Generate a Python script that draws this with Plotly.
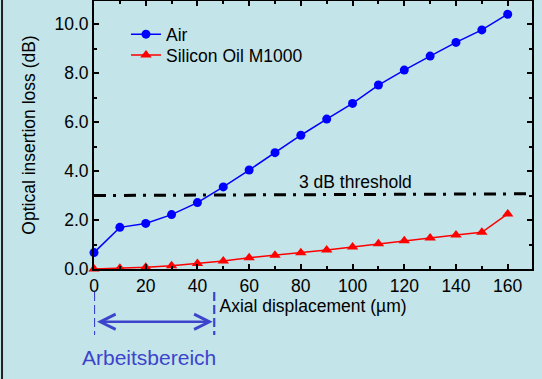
import plotly.graph_objects as go

# ---- data ----
displacement = [0, 10, 20, 30, 40, 50, 60, 70, 80, 90, 100, 110, 120, 130, 140, 150, 160]
air_loss = [0.67, 1.70, 1.86, 2.22, 2.71, 3.35, 4.04, 4.75, 5.46, 6.12, 6.76, 7.51, 8.12, 8.69, 9.25, 9.76, 10.40]
oil_loss = [0.0, 0.03, 0.07, 0.13, 0.22, 0.33, 0.46, 0.56, 0.66, 0.78, 0.90, 1.03, 1.15, 1.27, 1.39, 1.50, 2.25]
series_names = ["Air", "Silicon Oil M1000"]
threshold_x = [0, 169.4]
threshold_y = [3.0, 3.07]
threshold_label = "3 dB threshold"
work_range = [0, 46.5]
work_label = "Arbeitsbereich"
x_range = [0, 169.4]
y_range = [0, 10.94]
x_ticks = [0, 20, 40, 60, 80, 100, 120, 140, 160]
y_ticks = [0, 2, 4, 6, 8, 10]

BG = "#C3E4E8"
BLUE2 = "#3C44CC"
FONT = "Liberation Sans, Arial, sans-serif"
FS = 17.5

fig = go.Figure()
fig.add_trace(go.Scatter(
    x=displacement, y=air_loss, name=series_names[0], mode="lines+markers",
    line=dict(color="#0000FF", width=1.5),
    marker=dict(symbol="circle", size=9, color="#0000FF"),
    cliponaxis=False, legend="legend"))
fig.add_trace(go.Scatter(
    x=displacement, y=oil_loss, name=series_names[1], mode="lines+markers",
    line=dict(color="#FF0000", width=1.5),
    marker=dict(symbol="triangle-up", size=10, color="#FF0000"),
    cliponaxis=False, legend="legend2"))
fig.add_trace(go.Scatter(
    x=threshold_x, y=threshold_y, mode="lines", showlegend=False,
    line=dict(color="black", width=3, dash="12px,7px,3px,8px"),
    hoverinfo="skip"))

axis_common = dict(
    showline=True, linecolor="black", linewidth=2, mirror="ticks",
    ticks="inside", ticklen=5, tickwidth=1.5, tickcolor="black",
    showgrid=False, zeroline=False, automargin=False,
    tickfont=dict(family=FONT, size=FS, color="black"),
    minor=dict(ticks="inside", ticklen=3, tickwidth=1.5, tickcolor="black", showgrid=False),
)

fig.update_xaxes(**axis_common, range=x_range, tickvals=x_ticks, minor_dtick=10,
                 title=dict(text="Axial displacement (µm)", font=dict(family=FONT, size=FS, color="black"), standoff=2))
fig.update_yaxes(**axis_common, range=y_range, tickvals=y_ticks, tickformat=".1f", minor_dtick=1,
                 title=dict(text="Optical insertion loss (dB)", font=dict(family=FONT, size=FS, color="black"), standoff=14))

shapes = []
for xv in work_range:
    shapes.append(dict(type="line", xref="x", yref="paper", x0=xv, x1=xv, y0=-0.086, y1=-0.246,
                       line=dict(color=BLUE2, width=2.2, dash="9px,4px")))
# left frame border of the figure
shapes.append(dict(type="line", xref="paper", yref="paper", x0=-0.210, x1=-0.210, y0=-0.41, y1=1.01,
                   line=dict(color="#222222", width=2)))

annotations = [
    dict(x=work_range[1] - 0.6, y=-0.197, xref="x", yref="paper",
         ax=work_range[0] + 0.6, ay=0, axref="x", ayref="pixel",
         text="", showarrow=True, arrowhead=5, startarrowhead=5, arrowside="end+start",
         arrowsize=1.2, startarrowsize=1.2, arrowwidth=2.5, arrowcolor=BLUE2, standoff=0, startstandoff=0),
    dict(x=sum(work_range) / 2, y=-0.33, xref="x", yref="paper", text=work_label, showarrow=False,
         font=dict(family=FONT, size=21, color=BLUE2), xanchor="center", yanchor="middle", xshift=-5),
    dict(x=101, y=3.55, xref="x", yref="y", text=threshold_label, showarrow=False,
         font=dict(family=FONT, size=FS, color="black"), xanchor="center", yanchor="middle"),
]

legend_style = dict(x=0.073, xanchor="left", yanchor="top", bgcolor="rgba(0,0,0,0)",
                    font=dict(family=FONT, size=FS, color="black"), itemwidth=30)

fig.update_layout(
    width=542, height=379,
    margin=dict(l=94, r=10, t=1, b=110),
    paper_bgcolor=BG, plot_bgcolor=BG,
    font=dict(family=FONT, size=FS, color="black"),
    showlegend=True,
    legend=dict(**legend_style, y=0.943),
    legend2=dict(**legend_style, y=0.865),
    shapes=shapes, annotations=annotations,
)

fig.write_html("out.html", config={"displayModeBar": False},
               post_script="document.body.style.margin='0';document.body.style.background='" + BG + "';")
